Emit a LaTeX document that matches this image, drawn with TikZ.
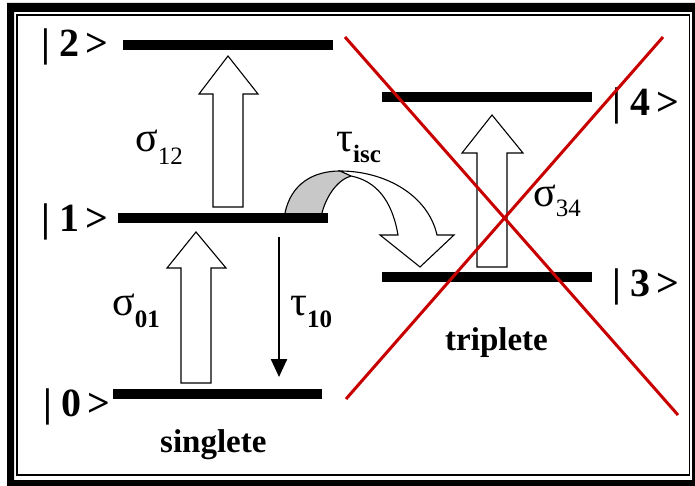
\documentclass[tikz,border=0pt]{standalone}
\usepackage{fontspec}
\setmainfont{Liberation Serif}
\usetikzlibrary{arrows.meta}
\definecolor{xred}{RGB}{200,0,0}
\definecolor{ribbon}{RGB}{200,200,200}
\newcommand\lblfont{\fontsize{40}{44}\selectfont\bfseries}
\newcommand\greekfont{\fontsize{42}{46}\selectfont}
\newcommand\subfont{\fontsize{25}{28}\selectfont}
\begin{document}
\begin{tikzpicture}[x=1pt,y=-1pt,
  levelline/.style={line width=10pt},
  blockarrow/.style={draw=black, fill=white, line width=1.1pt, line join=miter},
  lbl/.style={anchor=base west, inner sep=0pt, font=\lblfont},
  glbl/.style={anchor=base west, inner sep=0pt, font=\greekfont},
  title/.style={anchor=base west, inner sep=0pt, font=\fontsize{33}{38}\selectfont\bfseries},
  crossline/.style={draw=xred, line width=3pt},
  decay/.style={line width=2.4pt, -{Triangle[width=16pt,length=18pt]}}]
\useasboundingbox (0,0) rectangle (695,486);
\fill[white] (0,0) rectangle (695,486);
% frame
\fill[black, even odd rule] (7,3) rectangle (698,489) (14,12) rectangle (692,480);
\draw[line width=1.8pt] (17,15) rectangle (689.5,475);
% level coordinates
\coordinate (l2a) at (123,45);  \coordinate (l2b) at (333,45);
\coordinate (l1a) at (118,218); \coordinate (l1b) at (328,218);
\coordinate (l0a) at (113,394); \coordinate (l0b) at (322,394);
\coordinate (l4a) at (382,97);  \coordinate (l4b) at (592,97);
\coordinate (l3a) at (382,277); \coordinate (l3b) at (592,277);
% tau isc ribbon arrow
\fill[ribbon] (285,213) .. controls (291,184) and (313,171) .. (340,171)
  -- (351,176) .. controls (337,180) and (326,197) .. (322,213) -- cycle;
\draw[line width=1.1pt, fill=white, line join=miter]
  (340,171) .. controls (385,171) and (428,195) .. (437,235)
  -- (454,235) -- (420,267) -- (380,235) -- (398,235)
  .. controls (392,200) and (376,181) .. (351,176) -- cycle;
\draw[line width=1.1pt] (285,213) .. controls (291,184) and (313,171) .. (340,171);
\draw[line width=1.1pt] (351,176) .. controls (337,180) and (326,197) .. (322,213);
% levels
\draw[levelline] (l2a) -- (l2b);
\draw[levelline] (l1a) -- (l1b);
\draw[levelline] (l0a) -- (l0b);
\draw[levelline] (l4a) -- (l4b);
\draw[levelline] (l3a) -- (l3b);
% block arrows
\draw[blockarrow] (213,207) -- (213,94) -- (199,94) -- (228,56) -- (258,94) -- (243,94) -- (243,207) -- cycle;
\draw[blockarrow] (181,383) -- (181,268) -- (167,268) -- (196,232) -- (226,268) -- (211,268) -- (211,383) -- cycle;
\draw[blockarrow] (477,267) -- (477,153) -- (462,153) -- (492,115) -- (523,153) -- (507,153) -- (507,267) -- cycle;
% decay arrow
\coordinate (t10s) at (279,237);
\coordinate (t10e) at (279,377);
\draw[decay] (t10s) -- (t10e);
% level labels
\node[lbl] (k2) at (41,57)  {|\hspace{9pt}2\hspace{6pt}>};
\node[lbl] (k1) at (41,232) {|\hspace{9pt}1\hspace{6pt}>};
\node[lbl] (k0) at (43,416) {|\hspace{9pt}0\hspace{6pt}>};
\node[lbl] (k4) at (612,116) {|\hspace{9pt}4\hspace{6pt}>};
\node[lbl] (k3) at (612,296) {|\hspace{9pt}3\hspace{6pt}>};
% rate labels
\node[glbl] (s12) at (135,152) {σ\raisebox{-13pt}{\subfont 12}};
\node[glbl] (s01) at (112,315) {σ\raisebox{-12pt}{\subfont\bfseries 01}};
\node[glbl] (t10) at (290,315) {τ\raisebox{-12pt}{\subfont\bfseries 10}};
\node[glbl] (tisc) at (336,152) {τ\raisebox{-11pt}{\subfont\bfseries isc}};
\node[glbl] (s34) at (533,207) {σ\raisebox{-10pt}{\subfont 34}};
% titles
\node[title] (sing) at (160,452) {singlete};
\node[title] (trip) at (445,350) {triplete};
% red cross
\coordinate (xa) at (345,37);  \coordinate (xb) at (678,415);
\coordinate (xc) at (663,37);  \coordinate (xd) at (346,399);
\draw[crossline] (xa) -- (xb);
\draw[crossline] (xc) -- (xd);
\end{tikzpicture}
\end{document}
